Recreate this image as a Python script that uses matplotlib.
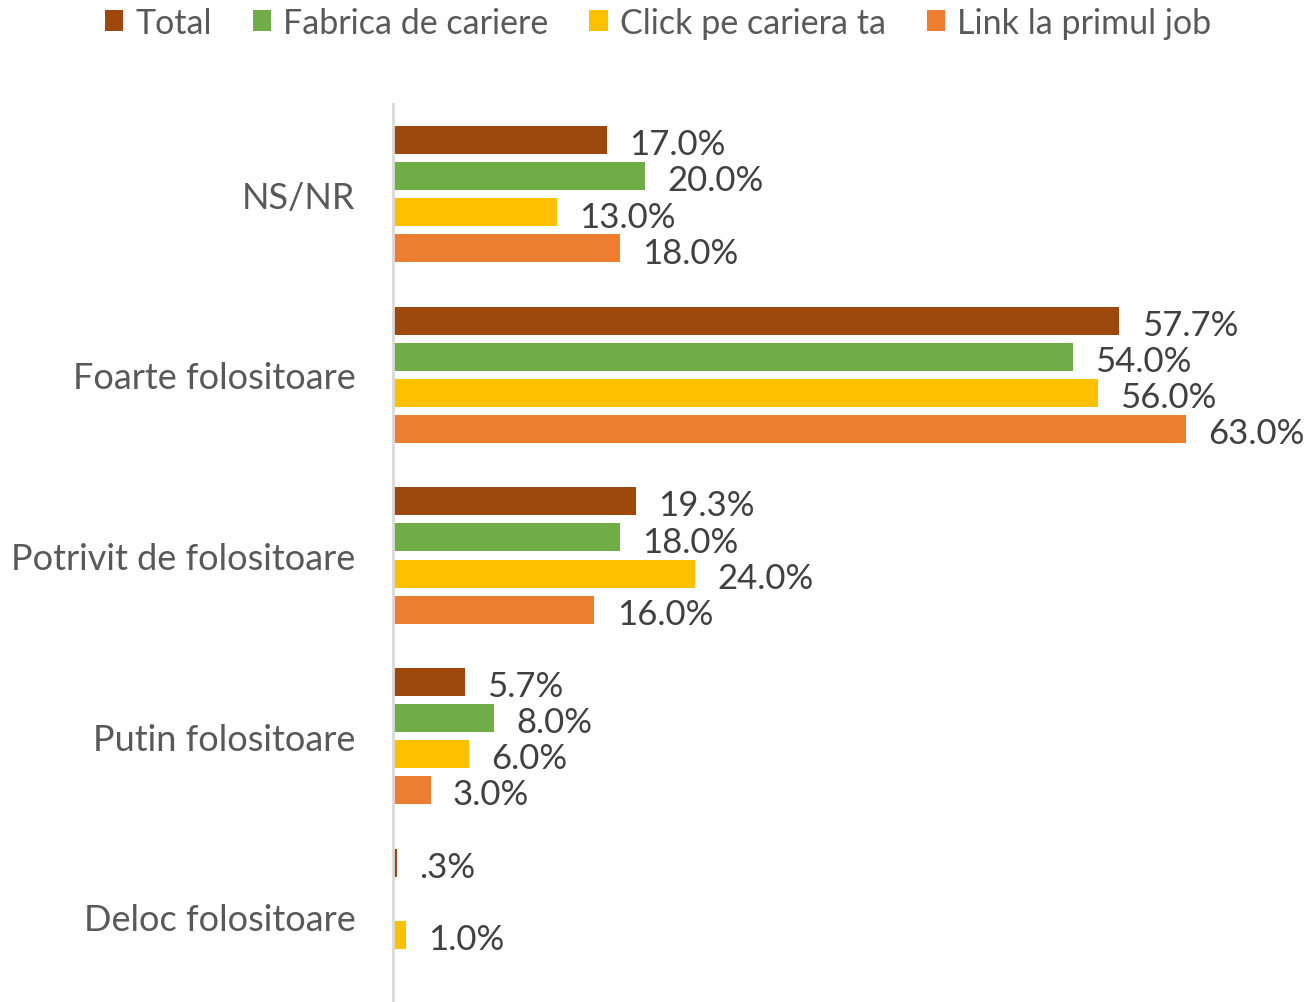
import matplotlib
matplotlib.use("Agg")
import matplotlib.pyplot as plt
import numpy as np

categories = ["NS/NR", "Foarte folositoare", "Potrivit de folositoare", "Putin folositoare", "Deloc folositoare"]
series_names = ["Total", "Fabrica de cariere", "Click pe cariera ta", "Link la primul job"]
total = [17.0, 57.7, 19.3, 5.7, 0.3]
fabrica = [20.0, 54.0, 18.0, 8.0, 0.0]
click = [13.0, 56.0, 24.0, 6.0, 1.0]
link = [18.0, 63.0, 16.0, 3.0, 0.0]
labels_total = ["17.0%", "57.7%", "19.3%", "5.7%", ".3%"]
labels_fabrica = ["20.0%", "54.0%", "18.0%", "8.0%", ""]
labels_click = ["13.0%", "56.0%", "24.0%", "6.0%", "1.0%"]
labels_link = ["18.0%", "63.0%", "16.0%", "3.0%", ""]

colors = ["#9E480E", "#70AD47", "#FFC000", "#ED7D31"]
plt.rcParams['font.family'] = ['Lato', 'DejaVu Sans']
text_color = "#404040"
fs = 26

fig = plt.figure(figsize=(13.16, 10.03), dpi=100)
ax = fig.add_axes([393/1316, -5/1003, 1 - 393/1316, (1003 - 105 + 5)/1003])

y = np.arange(len(categories))
step = 0.2
height = 0.155
all_vals = [total, fabrica, click, link]
all_labels = [labels_total, labels_fabrica, labels_click, labels_link]
for i, (vals, labs) in enumerate(zip(all_vals, all_labels)):
    pos = y + (i - 1.5) * step
    ax.barh(pos, vals, height=height, color=colors[i], label=series_names[i])
    for p, v, lab in zip(pos, vals, labs):
        if lab:
            ax.annotate(lab, (v, p), xytext=(16, -3), textcoords="offset points",
                        va="center", ha="left", fontsize=25, color=text_color)

ax.set_xlim(0, 923 / 12.59)
ax.set_ylim(4.5, -0.5)
ax.set_yticks(y)
ax.set_yticklabels(categories, fontsize=fs, color="#595959")
ax.tick_params(axis="y", length=0, pad=27)
ax.set_xticks([])
for s in ["top", "right", "bottom"]:
    ax.spines[s].set_visible(False)
ax.spines["left"].set_color("#D9D9D9")
ax.spines["left"].set_linewidth(2)

handles, labs = ax.get_legend_handles_labels()
fig.legend(handles, labs, loc="upper center", bbox_to_anchor=(0.5, 1.023), ncol=4,
           frameon=False, fontsize=24.5, handlelength=0.55, handleheight=0.6,
           handletextpad=0.35, columnspacing=1.2, labelcolor="#595959")

fig.savefig("out.png", dpi=100)
